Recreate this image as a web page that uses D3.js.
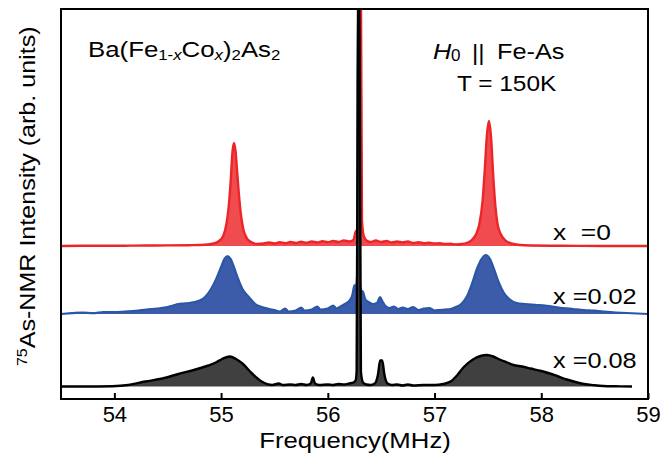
<!DOCTYPE html>
<html>
<head>
<meta charset="utf-8">
<script src="https://cdn.jsdelivr.net/npm/d3@7"></script>
<style>
  body { margin: 0; background: #fff; }
  text { font-family: "Liberation Sans", Arial, sans-serif; fill: #000; }
</style>
</head>
<body>
<div id="chart"></div>
<script>
// spectra: frequency (MHz) and intensity (arb. units)
const redFreq = [53.5, 53.7, 53.9, 54.1, 54.3, 54.5, 54.7, 54.85, 54.93, 54.98, 55.02, 55.05, 55.07, 55.09, 55.105, 55.12, 55.135, 55.15, 55.17, 55.19, 55.21, 55.24, 55.28, 55.34, 55.4, 55.45, 55.5, 55.55, 55.6, 55.65, 55.7, 55.75, 55.8, 55.85, 55.9, 55.95, 56.0, 56.05, 56.1, 56.15, 56.2, 56.24, 56.26, 56.28, 56.3, 56.31, 56.32, 56.34, 56.37, 56.4, 56.45, 56.5, 56.55, 56.6, 56.65, 56.7, 56.75, 56.8, 56.85, 56.9, 56.95, 57.0, 57.05, 57.1, 57.15, 57.2, 57.26, 57.3, 57.35, 57.39, 57.42, 57.45, 57.47, 57.49, 57.51, 57.53, 57.55, 57.57, 57.59, 57.62, 57.66, 57.72, 57.8, 57.9, 58.2, 58.6, 59.0];
const redInt = [0, 0.2, 0.3, 0.3, 0.5, 0.6, 0.8, 1.2, 2.5, 5, 10, 22, 38, 65, 92, 103, 95, 75, 48, 28, 16, 8, 4, 2, 2.5, 3.5, 2.5, 3.8, 2.8, 4, 3, 4.2, 3.2, 4.5, 3.5, 4.8, 3.8, 5, 4, 5.5, 4.5, 6, 14, 17, 25, 260, 25, 9, 5, 4, 5.5, 4, 5, 3.5, 4.5, 3.5, 4.5, 3, 3.8, 2.8, 3.2, 2.5, 2.8, 2, 2.2, 1.5, 2, 3, 6, 12, 22, 45, 75, 110, 125, 108, 70, 40, 22, 12, 6, 2.5, 1, 0.5, 0.2, 0, 0];

const blueFreq = [53.5, 53.6, 53.7, 53.8, 53.9, 54.0, 54.1, 54.2, 54.3, 54.4, 54.5, 54.55, 54.6, 54.65, 54.7, 54.75, 54.8, 54.85, 54.9, 54.95, 55.0, 55.03, 55.06, 55.09, 55.12, 55.16, 55.2, 55.26, 55.32, 55.38, 55.45, 55.5, 55.55, 55.6, 55.63, 55.7, 55.75, 55.78, 55.85, 55.9, 55.93, 56.0, 56.05, 56.08, 56.12, 56.16, 56.2, 56.23, 56.25, 56.26, 56.275, 56.285, 56.295, 56.31, 56.33, 56.35, 56.38, 56.42, 56.46, 56.49, 56.51, 56.54, 56.58, 56.62, 56.66, 56.7, 56.75, 56.8, 56.85, 56.9, 56.95, 57.0, 57.05, 57.1, 57.15, 57.2, 57.25, 57.3, 57.35, 57.4, 57.44, 57.48, 57.52, 57.56, 57.6, 57.65, 57.7, 57.77, 57.85, 57.96, 58.1, 58.2, 58.3, 58.4, 58.5, 58.58, 58.7, 58.8, 59.0];
const blueInt = [0, 0.8, 1.5, 0.8, 2, 1.8, 2.5, 3.2, 4.5, 5.5, 7, 8.5, 10, 10.5, 11, 12, 13.5, 17, 24, 34, 47, 55, 58, 55, 47, 35, 25, 17, 10, 7, 5, 4, 2.5, 5.5, 2.5, 3.5, 6.5, 3.5, 4.5, 7.5, 4.5, 5.5, 8.5, 5.5, 7.5, 10, 13, 19, 29, 23, 40, 400, 40, 24, 22, 15, 12, 10, 11, 17, 13, 8, 6, 7.5, 5, 6.5, 5, 7, 4, 5.5, 6, 3.5, 4, 4.5, 5, 7, 10, 17, 30, 46, 55, 59, 55, 44, 32, 21, 15, 11, 10, 9, 7.5, 6, 5, 4, 3.3, 2.3, 1.5, 1, 0];

const blackFreq = [53.5, 53.7, 53.98, 54.13, 54.29, 54.45, 54.6, 54.76, 54.88, 54.95, 55.01, 55.08, 55.14, 55.2, 55.29, 55.38, 55.48, 55.54, 55.58, 55.65, 55.7, 55.75, 55.8, 55.84, 55.86, 55.88, 55.92, 56.0, 56.05, 56.1, 56.15, 56.2, 56.24, 56.26, 56.27, 56.28, 56.29, 56.3, 56.31, 56.33, 56.36, 56.4, 56.44, 56.47, 56.49, 56.51, 56.53, 56.56, 56.6, 56.65, 56.7, 56.75, 56.8, 56.9, 57.0, 57.08, 57.15, 57.21, 57.27, 57.36, 57.43, 57.49, 57.55, 57.61, 57.68, 57.74, 57.82, 57.9, 58.0, 58.08, 58.16, 58.24, 58.32, 58.4, 58.5, 58.58, 58.7, 58.85];
const blackInt = [0, 0, 0.3, 1.5, 5, 8, 12.5, 17, 21, 24, 27.5, 30, 27.5, 23, 13, 5, 1.5, 3, 1.5, 2, 1.5, 2.5, 1.5, 3, 9, 3, 1.5, 2, 1.5, 2.5, 2, 3, 4, 6, 15, 300, 400, 300, 15, 4, 2, 1.5, 3, 12, 26, 26, 12, 3, 1.5, 2, 1, 2, 1, 1.5, 1.5, 2.5, 5, 11, 19, 27, 30.5, 31.5, 30, 27, 24, 21.5, 20, 18, 15.5, 13, 10, 7, 4.5, 2.5, 1.2, 0.5, 0.2, 0];

// vertical offsets of the stacked spectra
const seriesNames = ["x  =0", "x =0.02", "x =0.08"];
const offsets = [153, 85, 12.5];
const xTicks = [54, 55, 56, 57, 58, 59];

const width = 664;
const height = 455;
const margin = { top: 9, right: 16, bottom: 56, left: 61 };
const plotW = width - margin.left - margin.right;
const plotH = height - margin.top - margin.bottom;

const svg = d3.select("#chart").append("svg")
    .attr("width", width)
    .attr("height", height);

const x = d3.scaleLinear().domain([53.5, 59]).range([margin.left, margin.left + plotW]);
const y = d3.scaleLinear().domain([0, 390]).range([margin.top + plotH, margin.top]);

svg.append("clipPath").attr("id", "plotClip")
    .append("rect")
    .attr("x", margin.left).attr("y", margin.top)
    .attr("width", plotW).attr("height", plotH);

const series = [
    { freq: redFreq, val: redInt, stroke: "#ec2529", fill: "#f04b4f", lw: 2.4 },
    { freq: blueFreq, val: blueInt, stroke: "#2b57a7", fill: "#3c5ba8", lw: 2.2 },
    { freq: blackFreq, val: blackInt, stroke: "#000000", fill: "#404040", lw: 2.4 }
];

const plot = svg.append("g").attr("clip-path", "url(#plotClip)");

series.forEach((s, i) => {
    const pts = s.freq.map((f, k) => ({ f: f, v: s.val[k] }));
    const base = offsets[i];
    const area = d3.area()
        .x(d => x(d.f))
        .y0(y(base))
        .y1(d => y(base + d.v))
        .curve(d3.curveMonotoneX);
    const line = d3.line()
        .x(d => x(d.f))
        .y(d => y(base + d.v))
        .curve(d3.curveMonotoneX);
    plot.append("path").datum(pts)
        .attr("d", area)
        .attr("fill", s.fill);
    plot.append("path").datum(pts)
        .attr("d", line)
        .attr("fill", "none")
        .attr("stroke", s.stroke)
        .attr("stroke-width", s.lw)
        .attr("stroke-linejoin", "round");
});

// frame
svg.append("rect")
    .attr("x", margin.left).attr("y", margin.top)
    .attr("width", plotW).attr("height", plotH)
    .attr("fill", "none")
    .attr("stroke", "#000")
    .attr("stroke-width", 2);

// bottom axis, ticks pointing inward
const xAxis = svg.append("g")
    .attr("transform", `translate(0,${margin.top + plotH})`)
    .call(d3.axisBottom(x).tickValues(xTicks).tickSizeInner(-6).tickSizeOuter(0).tickPadding(7).tickFormat(d3.format("d")));
xAxis.select(".domain").remove();
xAxis.selectAll(".tick line").attr("stroke", "#000").attr("stroke-width", 2);
xAxis.selectAll(".tick text").attr("font-size", 22).attr("fill", "#000")
    .attr("font-family", "Liberation Sans, Arial, sans-serif");

// axis titles
svg.append("text")
    .attr("transform", "translate(355,448) scale(1.17,1)")
    .attr("text-anchor", "middle")
    .attr("font-size", 22)
    .text("Frequency(MHz)");

const yLab = svg.append("text")
    .attr("transform", "translate(35,366) rotate(-90) scale(1.14,1)")
    .attr("font-size", 22);
yLab.append("tspan").attr("font-size", 14).attr("dy", -8).text("75");
yLab.append("tspan").attr("dy", 8).text("As-NMR Intensity (arb. units)");

// compound label
const title = svg.append("text")
    .attr("transform", "translate(88,57) scale(1.2,1)")
    .attr("font-size", 21.5);
title.append("tspan").text("Ba(Fe");
title.append("tspan").attr("font-size", 14).attr("dy", 3).text("1-");
title.append("tspan").attr("font-size", 14).attr("font-style", "italic").text("x");
title.append("tspan").attr("dy", -3).text("Co");
title.append("tspan").attr("font-size", 14).attr("font-style", "italic").attr("dy", 3).text("x");
title.append("tspan").attr("dy", -3).text(")");
title.append("tspan").attr("font-size", 14).attr("dy", 3).text("2");
title.append("tspan").attr("dy", -3).text("As");
title.append("tspan").attr("font-size", 14).attr("dy", 3).text("2");

// field / temperature note
svg.append("text").attr("transform", "translate(433,59) scale(1.15,1)")
    .attr("font-size", 22).attr("font-style", "italic").text("H");
svg.append("text").attr("transform", "translate(451,61)")
    .attr("font-size", 17).text("0");
svg.append("text").attr("transform", "translate(472,60) scale(1.1,1)")
    .attr("font-size", 22).text("||");
svg.append("text").attr("transform", "translate(497,59) scale(1.15,1)")
    .attr("font-size", 22).text("Fe-As");
svg.append("text").attr("transform", "translate(457,91) scale(1.11,1)")
    .attr("font-size", 22).text("T = 150K");

// series labels
const labelY = [240, 304, 368];
const labelScale = [1.2, 1.15, 1.15];
seriesNames.forEach((name, i) => {
    svg.append("text")
        .attr("transform", `translate(553,${labelY[i]}) scale(${labelScale[i]},1)`)
        .attr("font-size", 22)
        .style("white-space", "pre")
        .text(name);
});
</script>
</body>
</html>
